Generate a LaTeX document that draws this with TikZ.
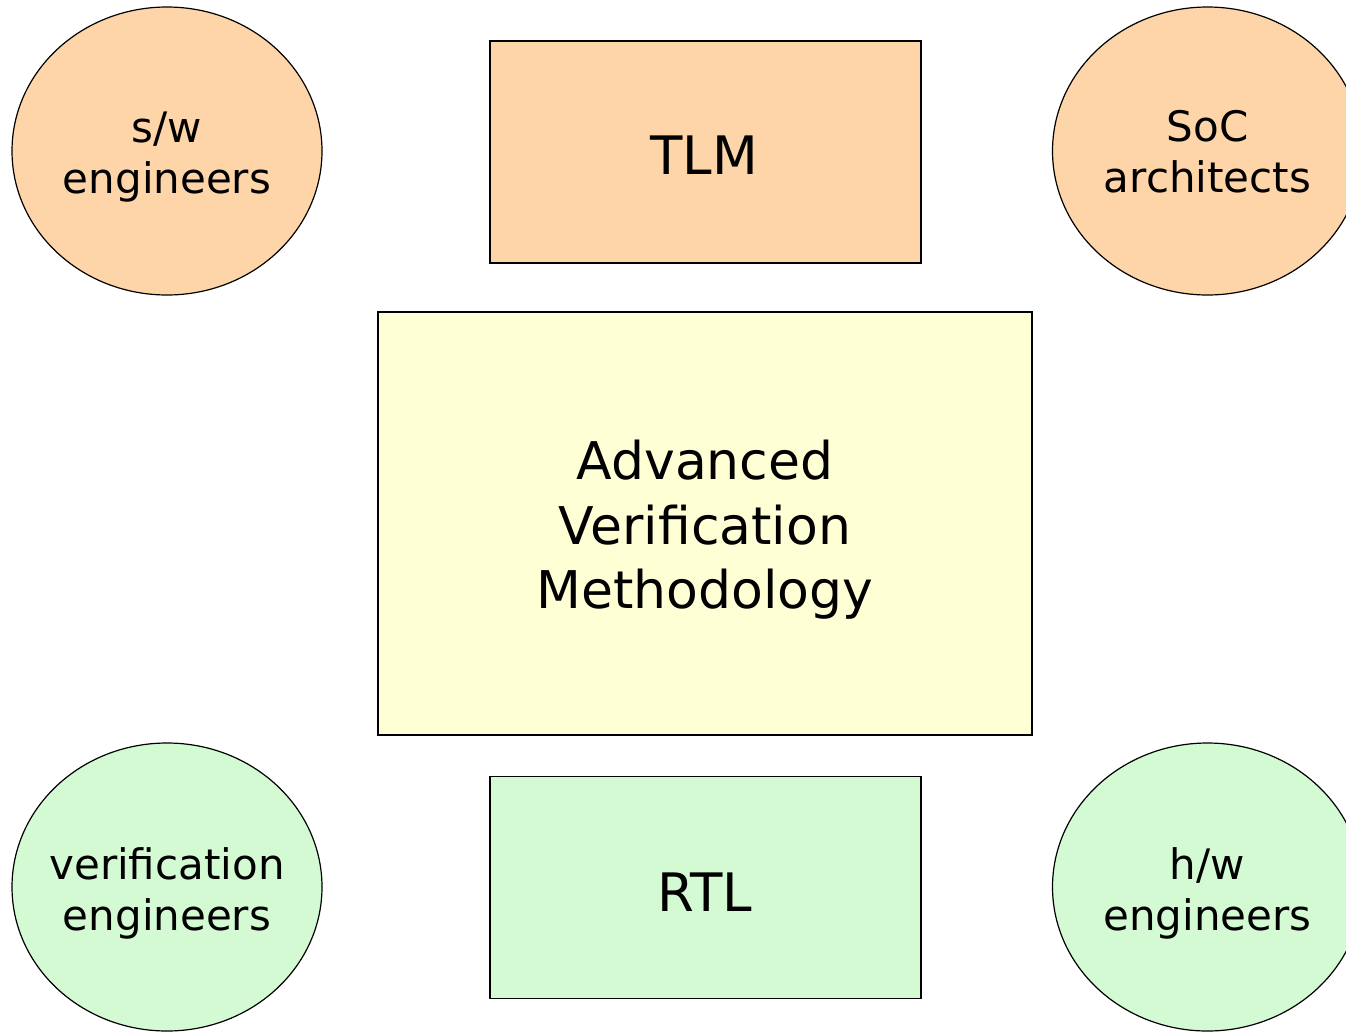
\documentclass[tikz,border=0pt]{standalone}
\usepackage{fontspec}
\setmainfont{DejaVu Sans}
\usepackage{xcolor}
\usepackage{tikz}
\usetikzlibrary{shapes.geometric}

\definecolor{peach}{RGB}{254,213,168}
\definecolor{paleyellow}{RGB}{255,255,213}
\definecolor{palegreen}{RGB}{212,250,212}

\begin{document}
\begin{tikzpicture}
    [x=1pt,y=-1pt,
    group/.style={shape=ellipse,draw=black,line width=1.2pt,minimum width=310pt,minimum height=288pt,inner sep=0pt},
    level/.style={shape=rectangle,draw=black,line width=1.2pt,inner sep=0pt},
    grouptext/.style={align=center,inner sep=0pt,font=\fontsize{42}{51}\selectfont},
    leveltext/.style={align=center,inner sep=0pt,font=\fontsize{53}{65}\selectfont},
    avmtext/.style={align=center,inner sep=0pt,font=\fontsize{52}{64.5}\selectfont}]

    \useasboundingbox (0,0) rectangle (1346,1031);
    \clip (0,0) rectangle (1346,1031);

    \node (sw) [group,fill=peach] at (167,151) {};
    \node (soc) [group,fill=peach] at (1207.5,151) {};
    \node (ver) [group,fill=palegreen] at (167,887) {};
    \node (hw) [group,fill=palegreen] at (1207.5,887) {};

    \node (tlm) [level,fill=peach,minimum width=431pt,minimum height=222pt] at (705.5,152) {};
    \node (avm) [level,fill=paleyellow,minimum width=654pt,minimum height=423pt] at (705,523.5) {};
    \node (rtl) [level,fill=palegreen,minimum width=431pt,minimum height=222pt] at (705.5,887.5) {};

    \node (sw text) [grouptext] at (167,157) {s/w\\engineers};
    \node (soc text) [grouptext] at (1207.5,152) {SoC\\architects};
    \node (ver text) [grouptext] at (167,893) {verification\\engineers};
    \node (hw text) [grouptext] at (1207.5,893) {h/w\\engineers};

    \node (tlm text) [leveltext] at (704,155.5) {TLM};
    \node (avm text) [avmtext] at (705,530) {Advanced\\Verification\\Methodology};
    \node (rtl text) [leveltext] at (705,892) {RTL};
\end{tikzpicture}
\end{document}
